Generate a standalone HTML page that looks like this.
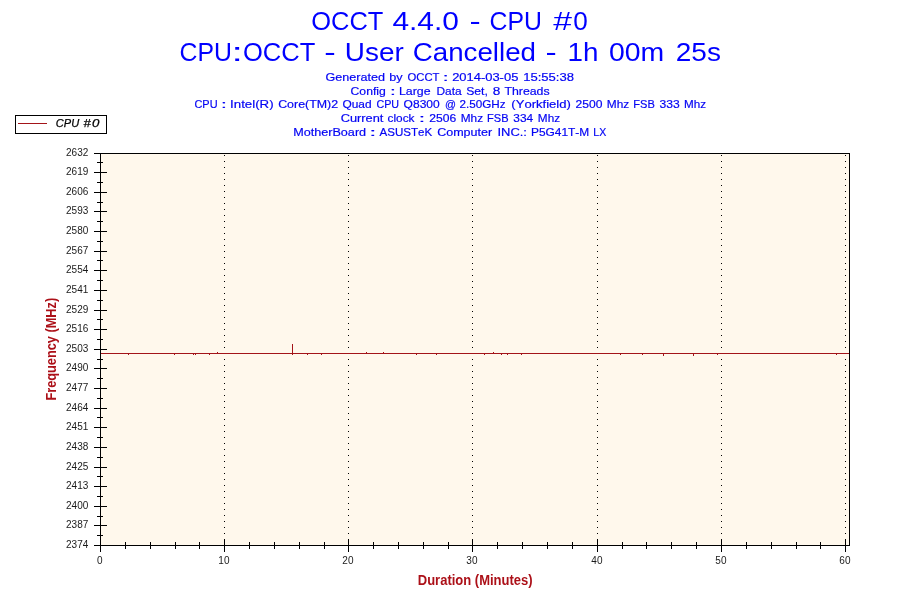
<!DOCTYPE html>
<html><head><meta charset="utf-8"><title>OCCT 4.4.0 - CPU #0</title>
<style>html,body{margin:0;padding:0;background:#fff;}body{width:900px;height:600px;overflow:hidden;}svg{display:block;will-change:transform;}text{font-family:"Liberation Sans",sans-serif;font-kerning:none;}</style>
</head><body>
<svg width="900" height="600" viewBox="0 0 900 600">
<rect x="0" y="0" width="900" height="600" fill="#ffffff"/>
<text x="311.29" y="29.6" font-size="25.4" fill="#0000FF" textLength="72.09" lengthAdjust="spacingAndGlyphs" >OCCT</text>
<text x="392.41" y="29.6" font-size="25.4" fill="#0000FF" textLength="66.56" lengthAdjust="spacingAndGlyphs" >4.4.0</text>
<text x="469.51" y="29.6" font-size="25.4" fill="#0000FF" textLength="11.18" lengthAdjust="spacingAndGlyphs" >-</text>
<text x="489.54" y="29.6" font-size="25.4" fill="#0000FF" textLength="52.37" lengthAdjust="spacingAndGlyphs" >CPU</text>
<text x="553.15" y="29.6" font-size="25.4" fill="#0000FF" textLength="18.71" lengthAdjust="spacingAndGlyphs" >#</text>
<text x="573.18" y="29.6" font-size="25.4" fill="#0000FF" textLength="14.54" lengthAdjust="spacingAndGlyphs" >0</text>
<text x="179.54" y="60.8" font-size="25.4" fill="#0000FF" textLength="52.37" lengthAdjust="spacingAndGlyphs" >CPU</text>
<text x="231.56" y="60.8" font-size="25.4" fill="#0000FF" textLength="11.38" lengthAdjust="spacingAndGlyphs" >:</text>
<text x="242.99" y="60.8" font-size="25.4" fill="#0000FF" textLength="72.29" lengthAdjust="spacingAndGlyphs" >OCCT</text>
<text x="324.27" y="60.8" font-size="25.4" fill="#0000FF" textLength="11.46" lengthAdjust="spacingAndGlyphs" >-</text>
<text x="344.85" y="60.8" font-size="25.4" fill="#0000FF" textLength="58.92" lengthAdjust="spacingAndGlyphs" >User</text>
<text x="412.79" y="60.8" font-size="25.4" fill="#0000FF" textLength="123.19" lengthAdjust="spacingAndGlyphs" >Cancelled</text>
<text x="545.51" y="60.8" font-size="25.4" fill="#0000FF" textLength="11.18" lengthAdjust="spacingAndGlyphs" >-</text>
<text x="567.48" y="60.8" font-size="25.4" fill="#0000FF" textLength="30.92" lengthAdjust="spacingAndGlyphs" >1h</text>
<text x="608.99" y="60.8" font-size="25.4" fill="#0000FF" textLength="55.28" lengthAdjust="spacingAndGlyphs" >00m</text>
<text x="675.79" y="60.8" font-size="25.4" fill="#0000FF" textLength="45.12" lengthAdjust="spacingAndGlyphs" >25s</text>
<text x="325.57" y="81" font-size="11.6" fill="#0404F4" textLength="59.44" lengthAdjust="spacingAndGlyphs" stroke="#0404F4" stroke-width="0.2">Generated</text>
<text x="389.19" y="81" font-size="11.6" fill="#0404F4" textLength="13.34" lengthAdjust="spacingAndGlyphs" stroke="#0404F4" stroke-width="0.2">by</text>
<text x="407.47" y="81" font-size="11.6" fill="#0404F4" textLength="31.99" lengthAdjust="spacingAndGlyphs" stroke="#0404F4" stroke-width="0.2">OCCT</text>
<text x="442.78" y="81" font-size="11.6" fill="#0404F4" textLength="5.84" lengthAdjust="spacingAndGlyphs" stroke="#0404F4" stroke-width="0.2">:</text>
<text x="452.15" y="81" font-size="11.6" fill="#0404F4" textLength="66.19" lengthAdjust="spacingAndGlyphs" stroke="#0404F4" stroke-width="0.2">2014-03-05</text>
<text x="523.20" y="81" font-size="11.6" fill="#0404F4" textLength="50.86" lengthAdjust="spacingAndGlyphs" stroke="#0404F4" stroke-width="0.2">15:55:38</text>
<text x="350.58" y="94.6" font-size="11.6" fill="#0404F4" textLength="35.20" lengthAdjust="spacingAndGlyphs" stroke="#0404F4" stroke-width="0.2">Config</text>
<text x="390.08" y="94.6" font-size="11.6" fill="#0404F4" textLength="5.84" lengthAdjust="spacingAndGlyphs" stroke="#0404F4" stroke-width="0.2">:</text>
<text x="398.99" y="94.6" font-size="11.6" fill="#0404F4" textLength="31.56" lengthAdjust="spacingAndGlyphs" stroke="#0404F4" stroke-width="0.2">Large</text>
<text x="436.52" y="94.6" font-size="11.6" fill="#0404F4" textLength="25.18" lengthAdjust="spacingAndGlyphs" stroke="#0404F4" stroke-width="0.2">Data</text>
<text x="466.15" y="94.6" font-size="11.6" fill="#0404F4" textLength="21.65" lengthAdjust="spacingAndGlyphs" stroke="#0404F4" stroke-width="0.2">Set,</text>
<text x="492.71" y="94.6" font-size="11.6" fill="#0404F4" textLength="7.59" lengthAdjust="spacingAndGlyphs" stroke="#0404F4" stroke-width="0.2">8</text>
<text x="504.42" y="94.6" font-size="11.6" fill="#0404F4" textLength="45.22" lengthAdjust="spacingAndGlyphs" stroke="#0404F4" stroke-width="0.2">Threads</text>
<text x="194.44" y="108.4" font-size="11.6" fill="#0404F4" textLength="23.10" lengthAdjust="spacingAndGlyphs" stroke="#0404F4" stroke-width="0.2">CPU</text>
<text x="221.08" y="108.4" font-size="11.6" fill="#0404F4" textLength="5.84" lengthAdjust="spacingAndGlyphs" stroke="#0404F4" stroke-width="0.2">:</text>
<text x="230.07" y="108.4" font-size="11.6" fill="#0404F4" textLength="43.55" lengthAdjust="spacingAndGlyphs" stroke="#0404F4" stroke-width="0.2">Intel(R)</text>
<text x="278.17" y="108.4" font-size="11.6" fill="#0404F4" textLength="59.95" lengthAdjust="spacingAndGlyphs" stroke="#0404F4" stroke-width="0.2">Core(TM)2</text>
<text x="342.44" y="108.4" font-size="11.6" fill="#0404F4" textLength="29.13" lengthAdjust="spacingAndGlyphs" stroke="#0404F4" stroke-width="0.2">Quad</text>
<text x="376.45" y="108.4" font-size="11.6" fill="#0404F4" textLength="22.67" lengthAdjust="spacingAndGlyphs" stroke="#0404F4" stroke-width="0.2">CPU</text>
<text x="403.63" y="108.4" font-size="11.6" fill="#0404F4" textLength="36.04" lengthAdjust="spacingAndGlyphs" stroke="#0404F4" stroke-width="0.2">Q8300</text>
<text x="444.95" y="108.4" font-size="11.6" fill="#0404F4" textLength="10.99" lengthAdjust="spacingAndGlyphs" stroke="#0404F4" stroke-width="0.2">@</text>
<text x="459.61" y="108.4" font-size="11.6" fill="#0404F4" textLength="45.97" lengthAdjust="spacingAndGlyphs" stroke="#0404F4" stroke-width="0.2">2.50GHz</text>
<text x="511.39" y="108.4" font-size="11.6" fill="#0404F4" textLength="59.42" lengthAdjust="spacingAndGlyphs" stroke="#0404F4" stroke-width="0.2">(Yorkfield)</text>
<text x="575.59" y="108.4" font-size="11.6" fill="#0404F4" textLength="26.88" lengthAdjust="spacingAndGlyphs" stroke="#0404F4" stroke-width="0.2">2500</text>
<text x="606.82" y="108.4" font-size="11.6" fill="#0404F4" textLength="22.47" lengthAdjust="spacingAndGlyphs" stroke="#0404F4" stroke-width="0.2">Mhz</text>
<text x="633.29" y="108.4" font-size="11.6" fill="#0404F4" textLength="21.49" lengthAdjust="spacingAndGlyphs" stroke="#0404F4" stroke-width="0.2">FSB</text>
<text x="659.54" y="108.4" font-size="11.6" fill="#0404F4" textLength="20.19" lengthAdjust="spacingAndGlyphs" stroke="#0404F4" stroke-width="0.2">333</text>
<text x="684.04" y="108.4" font-size="11.6" fill="#0404F4" textLength="22.04" lengthAdjust="spacingAndGlyphs" stroke="#0404F4" stroke-width="0.2">Mhz</text>
<text x="340.65" y="122.2" font-size="11.6" fill="#0404F4" textLength="42.74" lengthAdjust="spacingAndGlyphs" stroke="#0404F4" stroke-width="0.2">Current</text>
<text x="387.50" y="122.2" font-size="11.6" fill="#0404F4" textLength="26.99" lengthAdjust="spacingAndGlyphs" stroke="#0404F4" stroke-width="0.2">clock</text>
<text x="418.69" y="122.2" font-size="11.6" fill="#0404F4" textLength="6.42" lengthAdjust="spacingAndGlyphs" stroke="#0404F4" stroke-width="0.2">:</text>
<text x="429.39" y="122.2" font-size="11.6" fill="#0404F4" textLength="26.94" lengthAdjust="spacingAndGlyphs" stroke="#0404F4" stroke-width="0.2">2506</text>
<text x="460.73" y="122.2" font-size="11.6" fill="#0404F4" textLength="22.36" lengthAdjust="spacingAndGlyphs" stroke="#0404F4" stroke-width="0.2">Mhz</text>
<text x="487.09" y="122.2" font-size="11.6" fill="#0404F4" textLength="21.49" lengthAdjust="spacingAndGlyphs" stroke="#0404F4" stroke-width="0.2">FSB</text>
<text x="513.35" y="122.2" font-size="11.6" fill="#0404F4" textLength="19.80" lengthAdjust="spacingAndGlyphs" stroke="#0404F4" stroke-width="0.2">334</text>
<text x="537.83" y="122.2" font-size="11.6" fill="#0404F4" textLength="22.25" lengthAdjust="spacingAndGlyphs" stroke="#0404F4" stroke-width="0.2">Mhz</text>
<text x="293.16" y="135.8" font-size="11.6" fill="#0404F4" textLength="72.95" lengthAdjust="spacingAndGlyphs" stroke="#0404F4" stroke-width="0.2">MotherBoard</text>
<text x="369.49" y="135.8" font-size="11.6" fill="#0404F4" textLength="6.71" lengthAdjust="spacingAndGlyphs" stroke="#0404F4" stroke-width="0.2">:</text>
<text x="379.48" y="135.8" font-size="11.6" fill="#0404F4" textLength="52.65" lengthAdjust="spacingAndGlyphs" stroke="#0404F4" stroke-width="0.2">ASUSTeK</text>
<text x="437.16" y="135.8" font-size="11.6" fill="#0404F4" textLength="55.04" lengthAdjust="spacingAndGlyphs" stroke="#0404F4" stroke-width="0.2">Computer</text>
<text x="497.51" y="135.8" font-size="11.6" fill="#0404F4" textLength="29.48" lengthAdjust="spacingAndGlyphs" stroke="#0404F4" stroke-width="0.2">INC.:</text>
<text x="531.02" y="135.8" font-size="11.6" fill="#0404F4" textLength="58.25" lengthAdjust="spacingAndGlyphs" stroke="#0404F4" stroke-width="0.2">P5G41T-M</text>
<text x="593.34" y="135.8" font-size="11.6" fill="#0404F4" textLength="12.89" lengthAdjust="spacingAndGlyphs" stroke="#0404F4" stroke-width="0.2">LX</text>
<rect x="15.5" y="115.5" width="91" height="18" fill="#ffffff" stroke="#000" stroke-width="1" shape-rendering="crispEdges"/>
<rect x="18" y="123" width="29" height="1" fill="#A31419" shape-rendering="crispEdges"/>
<text x="55.79" y="126.9" font-size="11.5" fill="#000" textLength="23.36" lengthAdjust="spacingAndGlyphs" font-style="italic" stroke="#000" stroke-width="0.25">CPU</text>
<text x="83.45" y="126.9" font-size="11.5" fill="#000" textLength="7.22" lengthAdjust="spacingAndGlyphs" font-style="italic" stroke="#000" stroke-width="0.25">#</text>
<text x="92.02" y="126.9" font-size="11.5" fill="#000" textLength="7.39" lengthAdjust="spacingAndGlyphs" font-style="italic" stroke="#000" stroke-width="0.25">0</text>
<rect x="100" y="153" width="750" height="393" fill="#FFF8EC"/>
<line x1="224.5" y1="155" x2="224.5" y2="545" stroke="#000" stroke-width="1" stroke-dasharray="1 5" shape-rendering="crispEdges"/>
<line x1="348.5" y1="155" x2="348.5" y2="545" stroke="#000" stroke-width="1" stroke-dasharray="1 5" shape-rendering="crispEdges"/>
<line x1="472.5" y1="155" x2="472.5" y2="545" stroke="#000" stroke-width="1" stroke-dasharray="1 5" shape-rendering="crispEdges"/>
<line x1="597.5" y1="155" x2="597.5" y2="545" stroke="#000" stroke-width="1" stroke-dasharray="1 5" shape-rendering="crispEdges"/>
<line x1="721.5" y1="155" x2="721.5" y2="545" stroke="#000" stroke-width="1" stroke-dasharray="1 5" shape-rendering="crispEdges"/>
<line x1="845.5" y1="155" x2="845.5" y2="545" stroke="#000" stroke-width="1" stroke-dasharray="1 5" shape-rendering="crispEdges"/>
<g fill="#000" shape-rendering="crispEdges">
<rect x="94" y="153" width="756" height="1"/>
<rect x="100" y="153" width="1" height="399"/>
<rect x="849" y="153" width="1" height="393"/>
<rect x="94" y="545" width="756" height="1"/>
<rect x="94" y="153" width="13" height="1"/>
<rect x="97" y="162" width="6" height="1"/>
<rect x="94" y="172" width="13" height="1"/>
<rect x="97" y="182" width="6" height="1"/>
<rect x="94" y="192" width="13" height="1"/>
<rect x="97" y="202" width="6" height="1"/>
<rect x="94" y="211" width="13" height="1"/>
<rect x="97" y="221" width="6" height="1"/>
<rect x="94" y="231" width="13" height="1"/>
<rect x="97" y="241" width="6" height="1"/>
<rect x="94" y="251" width="13" height="1"/>
<rect x="97" y="260" width="6" height="1"/>
<rect x="94" y="270" width="13" height="1"/>
<rect x="97" y="280" width="6" height="1"/>
<rect x="94" y="290" width="13" height="1"/>
<rect x="97" y="300" width="6" height="1"/>
<rect x="94" y="310" width="13" height="1"/>
<rect x="97" y="319" width="6" height="1"/>
<rect x="94" y="329" width="13" height="1"/>
<rect x="97" y="339" width="6" height="1"/>
<rect x="94" y="349" width="13" height="1"/>
<rect x="97" y="359" width="6" height="1"/>
<rect x="94" y="368" width="13" height="1"/>
<rect x="97" y="378" width="6" height="1"/>
<rect x="94" y="388" width="13" height="1"/>
<rect x="97" y="398" width="6" height="1"/>
<rect x="94" y="408" width="13" height="1"/>
<rect x="97" y="417" width="6" height="1"/>
<rect x="94" y="427" width="13" height="1"/>
<rect x="97" y="437" width="6" height="1"/>
<rect x="94" y="447" width="13" height="1"/>
<rect x="97" y="457" width="6" height="1"/>
<rect x="94" y="467" width="13" height="1"/>
<rect x="97" y="476" width="6" height="1"/>
<rect x="94" y="486" width="13" height="1"/>
<rect x="97" y="496" width="6" height="1"/>
<rect x="94" y="506" width="13" height="1"/>
<rect x="97" y="516" width="6" height="1"/>
<rect x="94" y="525" width="13" height="1"/>
<rect x="97" y="535" width="6" height="1"/>
<rect x="94" y="545" width="13" height="1"/>
<rect x="100" y="539" width="1" height="13"/>
<rect x="125" y="542" width="1" height="7"/>
<rect x="150" y="542" width="1" height="7"/>
<rect x="175" y="542" width="1" height="7"/>
<rect x="199" y="542" width="1" height="7"/>
<rect x="224" y="539" width="1" height="13"/>
<rect x="249" y="542" width="1" height="7"/>
<rect x="274" y="542" width="1" height="7"/>
<rect x="299" y="542" width="1" height="7"/>
<rect x="324" y="542" width="1" height="7"/>
<rect x="348" y="539" width="1" height="13"/>
<rect x="373" y="542" width="1" height="7"/>
<rect x="398" y="542" width="1" height="7"/>
<rect x="423" y="542" width="1" height="7"/>
<rect x="448" y="542" width="1" height="7"/>
<rect x="472" y="539" width="1" height="13"/>
<rect x="497" y="542" width="1" height="7"/>
<rect x="522" y="542" width="1" height="7"/>
<rect x="547" y="542" width="1" height="7"/>
<rect x="572" y="542" width="1" height="7"/>
<rect x="597" y="539" width="1" height="13"/>
<rect x="622" y="542" width="1" height="7"/>
<rect x="646" y="542" width="1" height="7"/>
<rect x="671" y="542" width="1" height="7"/>
<rect x="696" y="542" width="1" height="7"/>
<rect x="721" y="539" width="1" height="13"/>
<rect x="746" y="542" width="1" height="7"/>
<rect x="771" y="542" width="1" height="7"/>
<rect x="796" y="542" width="1" height="7"/>
<rect x="820" y="542" width="1" height="7"/>
<rect x="845" y="539" width="1" height="13"/>
</g>
<g font-size="10" fill="#1a1a1a">
<text x="88.3" y="156.1" text-anchor="end">2632</text>
<text x="88.3" y="175.1" text-anchor="end">2619</text>
<text x="88.3" y="195.1" text-anchor="end">2606</text>
<text x="88.3" y="214.1" text-anchor="end">2593</text>
<text x="88.3" y="234.1" text-anchor="end">2580</text>
<text x="88.3" y="254.1" text-anchor="end">2567</text>
<text x="88.3" y="273.1" text-anchor="end">2554</text>
<text x="88.3" y="293.1" text-anchor="end">2541</text>
<text x="88.3" y="313.1" text-anchor="end">2529</text>
<text x="88.3" y="332.1" text-anchor="end">2516</text>
<text x="88.3" y="352.1" text-anchor="end">2503</text>
<text x="88.3" y="371.1" text-anchor="end">2490</text>
<text x="88.3" y="391.1" text-anchor="end">2477</text>
<text x="88.3" y="411.1" text-anchor="end">2464</text>
<text x="88.3" y="430.1" text-anchor="end">2451</text>
<text x="88.3" y="450.1" text-anchor="end">2438</text>
<text x="88.3" y="470.1" text-anchor="end">2425</text>
<text x="88.3" y="489.1" text-anchor="end">2413</text>
<text x="88.3" y="509.1" text-anchor="end">2400</text>
<text x="88.3" y="528.1" text-anchor="end">2387</text>
<text x="88.3" y="548.1" text-anchor="end">2374</text>
<text x="99.9" y="564.2" text-anchor="middle">0</text>
<text x="223.9" y="564.2" text-anchor="middle">10</text>
<text x="347.9" y="564.2" text-anchor="middle">20</text>
<text x="471.9" y="564.2" text-anchor="middle">30</text>
<text x="596.9" y="564.2" text-anchor="middle">40</text>
<text x="720.9" y="564.2" text-anchor="middle">50</text>
<text x="844.9" y="564.2" text-anchor="middle">60</text>
</g>
<text x="475.2" y="584.9" font-size="14" fill="#AC1018" text-anchor="middle" textLength="114.8" lengthAdjust="spacingAndGlyphs" font-weight="bold">Duration (Minutes)</text>
<text transform="translate(55.8,349.2) rotate(-90)" x="0" y="0" font-size="14" fill="#AC1018" text-anchor="middle" font-weight="bold" textLength="102.8" lengthAdjust="spacingAndGlyphs">Frequency (MHz)</text>
<g fill="#A31419" shape-rendering="crispEdges">
<rect x="101" y="353" width="748" height="1"/>
<rect x="128" y="354" width="1" height="1"/>
<rect x="174" y="354" width="1" height="1"/>
<rect x="193" y="354" width="1" height="1"/>
<rect x="195" y="354" width="1" height="1"/>
<rect x="209" y="354" width="1" height="1"/>
<rect x="307" y="354" width="1" height="1"/>
<rect x="321" y="354" width="1" height="1"/>
<rect x="416" y="354" width="1" height="1"/>
<rect x="436" y="354" width="1" height="1"/>
<rect x="484" y="354" width="1" height="1"/>
<rect x="501" y="354" width="1" height="1"/>
<rect x="507" y="354" width="1" height="1"/>
<rect x="521" y="354" width="1" height="1"/>
<rect x="620" y="354" width="1" height="1"/>
<rect x="642" y="354" width="1" height="1"/>
<rect x="717" y="354" width="1" height="1"/>
<rect x="836" y="354" width="1" height="1"/>
<rect x="663" y="354" width="1" height="2"/>
<rect x="693" y="354" width="1" height="2"/>
<rect x="217" y="352" width="1" height="1"/>
<rect x="366" y="352" width="1" height="1"/>
<rect x="383" y="352" width="1" height="1"/>
<rect x="493" y="352" width="1" height="1"/>
<rect x="292" y="344" width="1" height="11"/>
</g>
</svg>
</body></html>
